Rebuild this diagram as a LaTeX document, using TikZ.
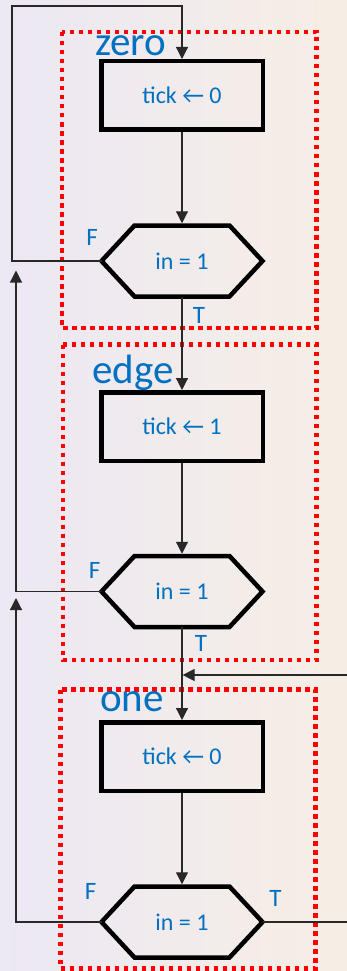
\documentclass[tikz,border=0pt]{standalone}
\usepackage{fontspec}
\setmainfont{Carlito}
\usetikzlibrary{arrows.meta,calc}
\definecolor{txtblue}{RGB}{0,112,192}
\definecolor{dotred}{RGB}{255,0,0}
\definecolor{bgleft}{RGB}{236,232,244}
\definecolor{bgright}{RGB}{246,238,228}
\definecolor{conncol}{RGB}{40,40,40}
\tikzset{
  stepbox/.style={draw=black, line width=4.5pt, minimum width=161.5pt, minimum height=68.5pt, inner sep=0pt, text=txtblue, font=\fontsize{24}{24}\selectfont},
  hextext/.style={minimum width=161pt, minimum height=71pt, inner sep=0pt, outer sep=0pt, text=txtblue, font=\fontsize{24}{24}\selectfont},
  hexline/.style={draw=black, line width=4.5pt, line join=miter},
  statebox/.style={draw=dotred, line width=4.5pt, dash pattern=on 4.5pt off 4.5pt},
  statename/.style={text=txtblue, font=\fontsize{41}{41}\selectfont, inner sep=0pt, anchor=base west},
  tf/.style={text=txtblue, font=\fontsize{25}{25}\selectfont, inner sep=0pt},
  conn/.style={draw=conncol, line width=1.2pt},
  arr/.style={conn, -{Triangle[length=12pt,width=12pt]}},
}
\newcommand\drawhex[1]{%
  \draw[hexline] (#1.west) -- ($(#1.north west)+(33,0)$) -- ($(#1.north east)+(-33,0)$)
    -- (#1.east) -- ($(#1.south east)+(-33,0)$) -- ($(#1.south west)+(33,0)$) -- cycle;}
\begin{document}
\begin{tikzpicture}[x=1pt,y=-1pt]
  \useasboundingbox (0,0) rectangle (347,971);
  \shade[left color=bgleft, right color=bgright] (0,0) rectangle (347,971);

  % state frames
  \draw[statebox] (62,32) rectangle (316.5,328);
  \draw[statebox] (63,344.5) rectangle (316.5,660);
  \draw[statebox] (60.5,689.5) rectangle (315.5,968.5);

  % state names
  \node[statename] (nzero) at (95,56) {zero};
  \node[statename] (nedge) at (92,383) {edge};
  \node[statename] (none) at (100,711) {one};

  % steps
  \node[stepbox] (b1) at (182,95.5) {tick ← 0};
  \node[stepbox] (b2) at (182,426.5) {tick ← 1};
  \node[stepbox] (b3) at (182,756.5) {tick ← 0};

  % decisions
  \node[hextext] (h1) at (182,261) {in = 1};
  \node[hextext] (h2) at (182,591.5) {in = 1};
  \node[hextext] (h3) at (182,922) {in = 1};
  \drawhex{h1}
  \drawhex{h2}
  \drawhex{h3}

  % free ends
  \coordinate (lz) at (12,6);
  \coordinate (ae) at (16,270.5);
  \coordinate (ao) at (16,598);
  \coordinate (rin) at (347,675);
  \coordinate (rout) at (347,922);

  % connectors
  \draw[arr] (h1.west) -| (lz) -| (b1.north);
  \draw[arr, shorten >=2.25pt] (b1.south) -- (h1.north);
  \draw[arr] (h1.south) -- (b2.north);
  \draw[arr, shorten >=2.25pt] (b2.south) -- (h2.north);
  \draw[arr] (h2.west) -| (ae);
  \draw[arr] (h2.south) -- (b3.north);
  \draw[arr, shorten >=0.6pt] (rin) -- (rin -| b3.north);
  \draw[arr, shorten >=2.25pt] (b3.south) -- (h3.north);
  \draw[arr] (h3.west) -| (ao);
  \draw[conn] (h3.east) -- (rout);

  % branch labels
  \node[tf] (f1) at (92,237) {F};
  \node[tf] (t1) at (199,315) {T};
  \node[tf] (f2) at (94.5,570) {F};
  \node[tf] (t2) at (201,643.5) {T};
  \node[tf] (f3) at (90.5,891) {F};
  \node[tf] (t3) at (275.5,898) {T};
\end{tikzpicture}
\end{document}
